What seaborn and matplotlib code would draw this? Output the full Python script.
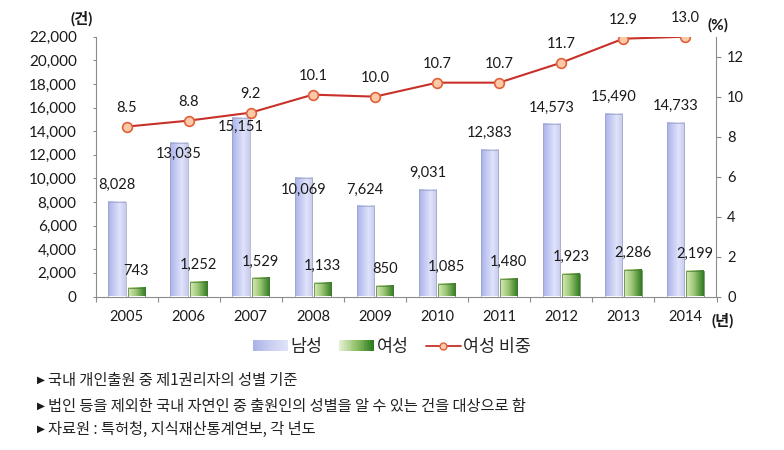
import numpy as np
import pandas as pd
import matplotlib
matplotlib.use("Agg")
import matplotlib.pyplot as plt
import seaborn as sns
from matplotlib.colors import LinearSegmentedColormap
from matplotlib.patches import Patch, Rectangle
from matplotlib.lines import Line2D
from matplotlib.legend_handler import HandlerBase

# ---- data ----
years = ["2005", "2006", "2007", "2008", "2009", "2010", "2011", "2012", "2013", "2014"]
male = [8028, 13035, 15151, 10069, 7624, 9031, 12383, 14573, 15490, 14733]
female = [743, 1252, 1529, 1133, 850, 1085, 1480, 1923, 2286, 2199]
ratio = [8.5, 8.8, 9.2, 10.1, 10.0, 10.7, 10.7, 11.7, 12.9, 13.0]
series_names = ["남성", "여성", "여성 비중"]
left_ticks = list(range(0, 22001, 2000))
right_ticks = list(range(0, 13, 2))
notes = [
    "국내 개인출원 중 제1권리자의 성별 기준",
    "법인 등을 제외한 국내 자연인 중 출원인의 성별을 알 수 있는 건을 대상으로 함",
    "자료원 : 특허청, 지식재산통계연보, 각 년도",
]

# ---- style ----
sns.set_theme(style="white")
plt.rcParams["font.family"] = ["Lato", "Noto Sans CJK KR", "DejaVu Sans"]
TXT = "#1a1a1a"
SPINE = "#8c8c8c"

W, H = 784, 450
fig = plt.figure(figsize=(W / 100, H / 100), dpi=100)
ax_left, ax_right, ax_top, ax_bot = 95.5, 716.5, 36.7, 296.5
ax = fig.add_axes([ax_left / W, 1 - ax_bot / H, (ax_right - ax_left) / W, (ax_bot - ax_top) / H])

df = pd.DataFrame({
    "year": years * 2,
    "count": male + female,
    "gender": [series_names[0]] * len(years) + [series_names[1]] * len(years),
})
sns.barplot(data=df, x="year", y="count", hue="gender", hue_order=series_names[:2],
            palette=["#c3c9f2", "#7fb05a"], width=0.62, gap=0.1, saturation=1,
            legend=False, ax=ax, zorder=2)

ax.set_ylim(0, 22000)
ax.set_xlim(-0.5, len(years) - 0.5)

# gradient fills for bars
male_cmap = LinearSegmentedColormap.from_list("m", [(0, "#a9b2ec"), (0.65, "#e0e3fa"), (1, "#c6cbec")])
fem_cmap = LinearSegmentedColormap.from_list("f", [(0, "#d8e9b9"), (0.45, "#9cc774"), (1, "#2f7a22")])
grad = np.linspace(0, 1, 64).reshape(1, -1)
bars = list(ax.patches)
n = len(years)
for i, p in enumerate(bars):
    x0, y0 = p.get_x(), p.get_y()
    w, h = p.get_width(), p.get_height()
    cmap = male_cmap if i < n else fem_cmap
    ax.imshow(grad, extent=[x0, x0 + w, y0, y0 + h], aspect="auto", cmap=cmap,
              zorder=2.5, interpolation="bilinear")
    p.set_facecolor("none")
    p.set_edgecolor("#9ea3bd" if i < n else "#4a7a36")
    p.set_linewidth(0.5)
    p.set_zorder(3)
ax.set_xlim(-0.5, len(years) - 0.5)
ax.set_ylim(0, 22000)

# bar labels (offsets in pixels)
male_off_px = [17, -11, -9, -12, 17, 17, 17, 17, 17, 17]
for i, p in enumerate(bars):
    xc = p.get_x() + p.get_width() / 2
    v = p.get_height()
    off = male_off_px[i] if i < n else 17
    ax.annotate(f"{int(round(v)):,}", (xc, v), xytext=(0, off * 0.72), textcoords="offset points",
                ha="center", va="center", fontsize=10.5, color=TXT, zorder=6)

# ---- line on twin axis ----
ax2 = ax.twinx()
xpos = np.arange(len(years))
sns.lineplot(x=xpos, y=ratio, ax=ax2, color="#c8302a", linewidth=1.5, marker="o",
             markersize=7, markerfacecolor="#fbc9a8", markeredgecolor="#e0603a",
             markeredgewidth=1.2, zorder=5)
ax2.set_ylim(0, 13)
for x, v in zip(xpos, ratio):
    ax2.annotate(f"{v:.1f}", (x, v), xytext=(0, 19 * 0.72), textcoords="offset points",
                 ha="center", va="center", fontsize=10.5, color=TXT)

# ---- axes cosmetics ----
ax.set_xticks(range(len(years)))
ax.set_xticklabels(years)
ax.set_xticks(np.arange(-0.5, len(years)), minor=True)
ax.tick_params(axis="x", which="major", length=0, pad=9.5, labelsize=10.5, labelcolor=TXT)
ax.tick_params(axis="x", which="minor", length=3.6, width=0.8, color=SPINE, direction="out", bottom=True)
ax.set_yticks(left_ticks)
ax.set_yticklabels([f"{v:,}" for v in left_ticks])
ax.tick_params(axis="y", length=2.5, width=0.8, color=SPINE, pad=11, labelsize=11, labelcolor=TXT, left=True)
ax2.set_yticks(right_ticks)
ax2.tick_params(axis="y", length=3.6, width=0.8, color=SPINE, pad=4, labelsize=10.5, labelcolor=TXT, right=True)
ax.set_xlabel("")
ax.set_ylabel("")
ax2.set_ylabel("")
for s in ["top", "right"]:
    ax.spines[s].set_visible(False)
for s in ["top", "left", "bottom"]:
    ax2.spines[s].set_visible(False)
for s in ["left", "bottom"]:
    ax.spines[s].set_color(SPINE)
    ax.spines[s].set_linewidth(0.8)
ax2.spines["right"].set_color(SPINE)
ax2.spines["right"].set_linewidth(0.8)
ax.grid(False)
ax2.grid(False)

# unit labels
fig.text(82 / W, 1 - 19 / H, "(건)", ha="center", va="center", fontsize=11, fontweight="bold", color=TXT)
fig.text(718 / W, 1 - 25 / H, "(%)", ha="center", va="center", fontsize=11, fontweight="bold", color=TXT)
fig.text(723 / W, 1 - 321 / H, "(년)", ha="center", va="center", fontsize=11, fontweight="bold", color=TXT)


# legend with gradient swatches
class GradHandler(HandlerBase):
    def __init__(self, cmap, k=24):
        super().__init__()
        self.cmap = cmap
        self.k = k

    def create_artists(self, legend, orig_handle, xdescent, ydescent, width, height, fontsize, trans):
        arts = []
        sw = width / self.k
        for j in range(self.k):
            r = Rectangle((-xdescent + j * sw, -ydescent), sw * 1.05, height,
                          facecolor=self.cmap(j / (self.k - 1)), edgecolor="none", transform=trans)
            arts.append(r)
        return arts


male_leg_cmap = LinearSegmentedColormap.from_list("ml", ["#aab2e6", "#c9cef2", "#dfe2f8"])
fem_leg_cmap = LinearSegmentedColormap.from_list("fl", ["#e2eecf", "#8fbf66", "#2a7a1e"])
h_m = Patch(facecolor="#c3c9f2")
h_f = Patch(facecolor="#7fb05a")
h_l = Line2D([0], [0], color="#c8302a", linewidth=1.3, marker="o", markersize=5,
             markerfacecolor="#fbc9a8", markeredgecolor="#e0603a")
fig.legend([h_m, h_f, h_l], series_names, loc="center", bbox_to_anchor=(392 / W, 1 - 347 / H), ncol=3,
           frameon=False, handlelength=2.0, handleheight=0.6, columnspacing=1.0,
           handletextpad=0.15, prop={"family": ["Noto Sans CJK KR"], "size": 12.5},
           handler_map={h_m: GradHandler(male_leg_cmap), h_f: GradHandler(fem_leg_cmap)})

# notes
for y, t in zip([380, 406, 429], notes):
    fig.text(37 / W, 1 - y / H, "▶", ha="left", va="center", fontsize=7.5, color=TXT,
             family=["DejaVu Sans"])
    fig.text(48 / W, 1 - y / H, t, ha="left", va="center", fontsize=11, color="#222222",
             family=["Noto Sans CJK KR", "DejaVu Sans"])

fig.savefig("out.png", dpi=100)
